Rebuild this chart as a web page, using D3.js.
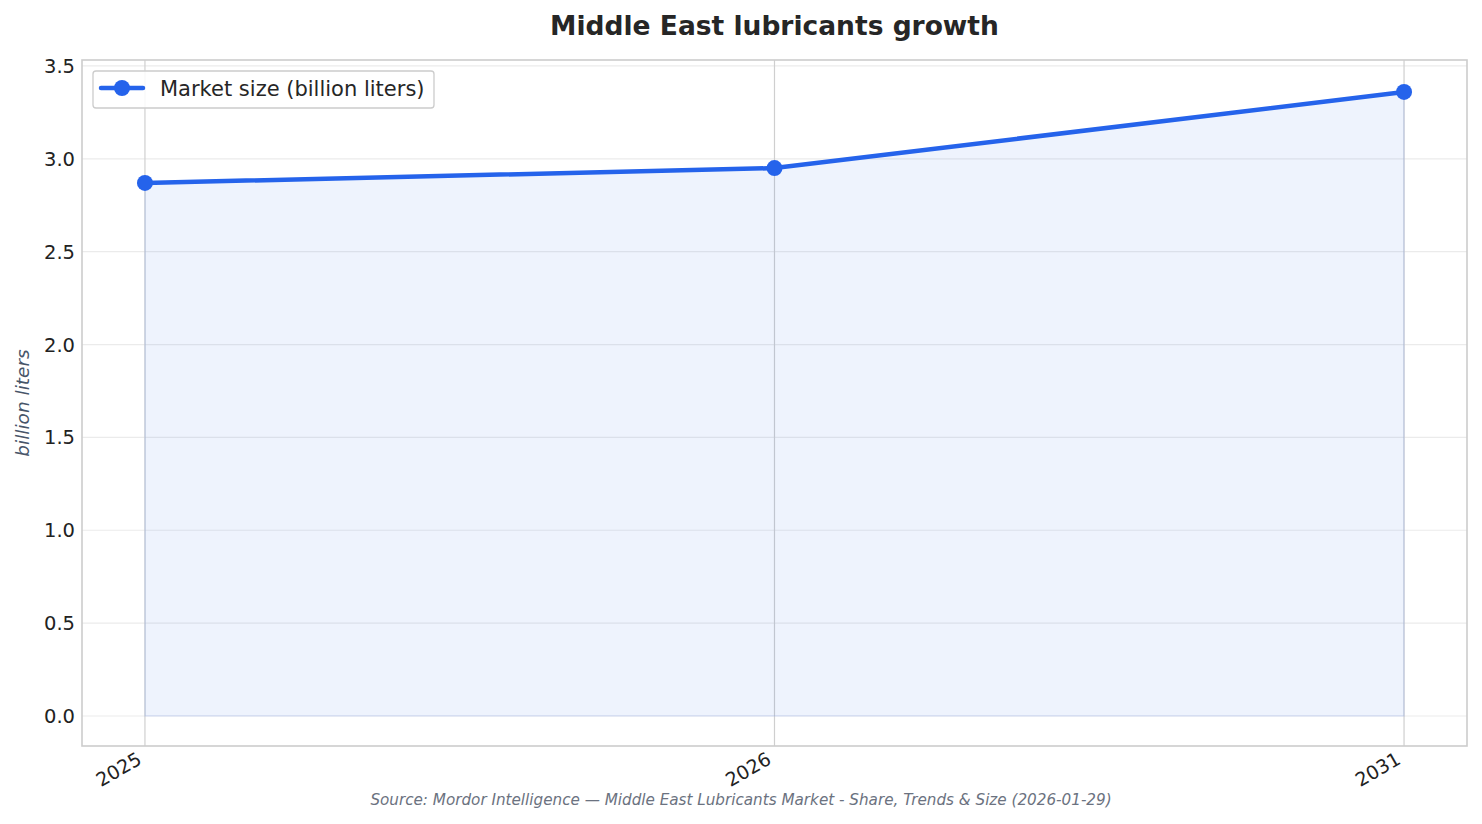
<!DOCTYPE html>
<html><head><meta charset="utf-8">
<script src="https://cdn.jsdelivr.net/npm/d3@7"></script>
<style>body{margin:0;background:#fff}svg{display:block}text{font-family:"DejaVu Sans",sans-serif}</style>
</head><body>
<svg id="c" width="1482" height="824"></svg>
<script>
const years = ["2025", "2026", "2031"];
const marketSize = [2.87, 2.95, 3.36];
const yTicks = [0.0, 0.5, 1.0, 1.5, 2.0, 2.5, 3.0, 3.5];
const titleText = "Middle East lubricants growth";
const seriesName = "Market size (billion liters)";
const yLabel = "billion liters";
const sourceText = "Source: Mordor Intelligence — Middle East Lubricants Market - Share, Trends & Size (2026-01-29)";

const W = 1482, H = 824;
const plot = {l: 82, r: 1467, t: 60, b: 746};
const blue = "#2563eb";
const svg = d3.select("#c");

const span = plot.r - plot.l;
const inner = span / 1.1;
const x = d3.scalePoint().domain(years)
  .range([plot.l + inner * 0.05, plot.r - inner * 0.05]);

const y = d3.scaleLinear().domain([-0.1615, 3.532]).range([plot.b, plot.t]);

// grid
const g = svg.append("g");
g.selectAll("line.hg").data(yTicks).join("line")
  .attr("x1", plot.l).attr("x2", plot.r)
  .attr("y1", d => y(d)).attr("y2", d => y(d))
  .attr("stroke", "#ebebeb").attr("stroke-width", 1.2);
g.selectAll("line.vg").data(years).join("line")
  .attr("x1", d => x(d)).attr("x2", d => x(d))
  .attr("y1", plot.t).attr("y2", plot.b)
  .attr("stroke", "#cfcfcf").attr("stroke-width", 1.2);

// area
const data = years.map((d, i) => ({year: d, v: marketSize[i]}));
svg.append("path").datum(data)
  .attr("d", d3.area().x(d => x(d.year)).y0(y(0)).y1(d => y(d.v)))
  .attr("fill", blue).attr("fill-opacity", 0.08)
  .attr("stroke", blue).attr("stroke-opacity", 0.1).attr("stroke-width", 1.5);

// frame
svg.append("rect").attr("x", plot.l).attr("y", plot.t)
  .attr("width", plot.r - plot.l).attr("height", plot.b - plot.t)
  .attr("fill", "none").attr("stroke", "#cccccc").attr("stroke-width", 1.6);

// line + markers
svg.append("path").datum(data)
  .attr("d", d3.line().x(d => x(d.year)).y(d => y(d.v)))
  .attr("fill", "none").attr("stroke", blue).attr("stroke-width", 4.5)
  .attr("stroke-linejoin", "round").attr("stroke-linecap", "round");
svg.selectAll("circle.pt").data(data).join("circle")
  .attr("cx", d => x(d.year)).attr("cy", d => y(d.v)).attr("r", 8)
  .attr("fill", blue);

// y ticks
svg.selectAll("text.yt").data(yTicks).join("text")
  .attr("x", 75).attr("y", d => y(d)).attr("dy", "0.36em")
  .attr("text-anchor", "end").attr("font-size", 19.5).attr("fill", "#222")
  .text(d => d.toFixed(1));

// x ticks
svg.selectAll("text.xt").data(years).join("text")
  .attr("transform", d => `translate(${x(d) - 2},763) rotate(-30)`)
  .attr("text-anchor", "end").attr("font-size", 19).attr("fill", "#222")
  .text(d => d);

// y label
svg.append("text")
  .attr("transform", `translate(29,${(plot.t + plot.b) / 2}) rotate(-90)`)
  .attr("text-anchor", "middle").attr("font-size", 18.5).attr("font-style", "italic")
  .attr("fill", "#475569").text(yLabel);

// title
svg.append("text").attr("x", (plot.l + plot.r) / 2).attr("y", 35)
  .attr("text-anchor", "middle").attr("font-size", 26.5).attr("font-weight", "bold")
  .attr("fill", "#262626").text(titleText);

// legend
const lg = svg.append("g");
lg.append("rect").attr("x", 93).attr("y", 71).attr("width", 341).attr("height", 37)
  .attr("rx", 3).attr("fill", "#fff").attr("fill-opacity", 0.85)
  .attr("stroke", "#cccccc").attr("stroke-width", 1.3);
lg.append("line").attr("x1", 101).attr("x2", 143).attr("y1", 88).attr("y2", 88)
  .attr("stroke", blue).attr("stroke-width", 4.5).attr("stroke-linecap", "round");
lg.append("circle").attr("cx", 122).attr("cy", 88).attr("r", 8).attr("fill", blue);
lg.append("text").attr("x", 160).attr("y", 88).attr("dy", "0.36em")
  .attr("font-size", 21).attr("fill", "#262626").text(seriesName);

// source
svg.append("text").attr("x", W / 2).attr("y", 805)
  .attr("text-anchor", "middle").attr("font-size", 15.2).attr("font-style", "italic")
  .attr("fill", "#6b7280").text(sourceText);
</script>
</body></html>
